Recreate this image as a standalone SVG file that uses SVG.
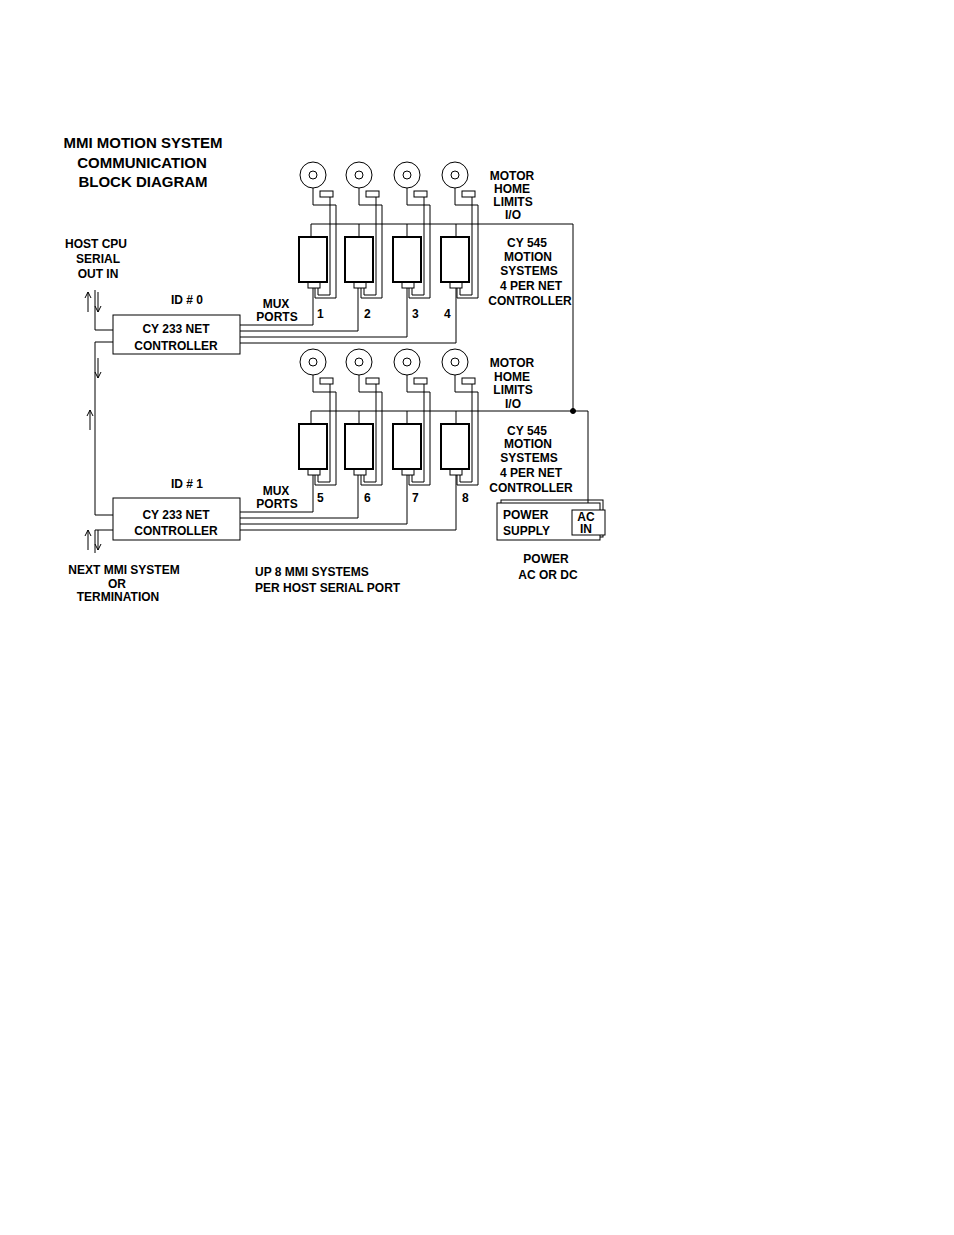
<svg xmlns="http://www.w3.org/2000/svg" width="954" height="1235" viewBox="0 0 954 1235">
<style>
text{font-family:"Liberation Sans",Arial,sans-serif;font-weight:bold;font-size:12px;fill:#000}
.t{font-size:15px}
.m{text-anchor:middle}
line,path,rect,circle{fill:none;stroke:#000;stroke-width:1}
.b{stroke-width:2;fill:#fff}
.bg{fill:#fff;stroke:none}
</style>
<defs>
<g id="motor"><circle r="13" cx="0" cy="0"/><circle r="4" cx="0" cy="0"/></g>
<g id="unit">
<use href="#motor"/>
<rect x="7" y="16" width="13" height="6" stroke-width="1.5"/>
<path d="M0,13 V30 H23 V123 H2 V113"/>
<path d="M17,22 V120 H5 V113"/>
<rect class="b" x="-14" y="62" width="28" height="45"/>
<rect x="-5" y="107" width="12" height="6"/>
</g>
<path id="up" d="M0,0 V20 M-3,6 L0,0 L3,6"/>
<path id="dn" d="M0,0 V20 M-3,14 L0,20 L3,14"/>
</defs>
<rect class="bg" width="954" height="1235"/>
<g id="title">
<text class="t m" x="143" y="148">MMI MOTION SYSTEM</text>
<text class="t m" x="142" y="168">COMMUNICATION</text>
<text class="t m" x="143" y="187">BLOCK DIAGRAM</text>
</g>
<g id="connectors">
<path d="M311,237 V224 H573 V411"/>
<line x1="359" y1="224" x2="359" y2="237"/><line x1="407" y1="224" x2="407" y2="237"/><line x1="456" y1="224" x2="456" y2="237"/>
<path d="M311,424 V411 H588 V503"/>
<line x1="359" y1="411" x2="359" y2="424"/><line x1="407" y1="411" x2="407" y2="424"/><line x1="456" y1="411" x2="456" y2="424"/>
<circle cx="573" cy="411" r="2.5" style="fill:#000"/>
<path d="M313,288 V325 H240 M358,288 V331 H240 M407,288 V337 H240 M456,288 V343 H240"/>
<path d="M313,475 V512 H240 M358,475 V518 H240 M407,475 V524 H240 M456,475 V530 H240"/>
<path d="M95,290 V330 H113"/>
<path d="M113,342 H95 V515 H113"/>
<path d="M113,530 H95 V553"/>
<use href="#up" x="88" y="292"/>
<use href="#dn" x="98" y="292"/>
<use href="#dn" x="98" y="358"/>
<use href="#up" x="90" y="410"/>
<use href="#up" x="88" y="530"/>
<use href="#dn" x="98" y="530"/>
</g>
<g id="units-top">
<use href="#unit" x="313" y="175"/><use href="#unit" x="359" y="175"/><use href="#unit" x="407" y="175"/><use href="#unit" x="455" y="175"/>
</g>
<g id="units-bottom">
<use href="#unit" x="313" y="362"/><use href="#unit" x="359" y="362"/><use href="#unit" x="407" y="362"/><use href="#unit" x="455" y="362"/>
</g>
<g id="controller0"><rect class="b" x="113" y="315" width="127" height="39" style="stroke-width:1"/>
<text class="m" x="176" y="333">CY 233 NET</text><text class="m" x="176" y="350">CONTROLLER</text></g>
<g id="controller1"><rect class="b" x="113" y="498" width="127" height="42" style="stroke-width:1"/>
<text class="m" x="176" y="519">CY 233 NET</text><text class="m" x="176" y="535">CONTROLLER</text></g>
<g id="power"><rect x="501" y="500" width="102" height="37"/><rect class="b" x="497" y="503" width="103" height="37" style="stroke-width:1"/>
<rect class="b" x="572" y="510" width="33" height="25" style="stroke-width:1"/>
<text x="503" y="519">POWER</text><text x="503" y="535">SUPPLY</text>
<text class="m" x="586" y="521">AC</text><text class="m" x="586" y="533">IN</text></g>
<g id="labels">
<text class="m" x="96" y="248">HOST CPU</text><text class="m" x="98" y="263">SERIAL</text><text class="m" x="98" y="278">OUT  IN</text>
<text class="m" x="187" y="304">ID  #  0</text><text class="m" x="187" y="488">ID  #  1</text>
<text class="m" x="276" y="308">MUX</text><text class="m" x="277" y="321">PORTS</text>
<text class="m" x="276" y="495">MUX</text><text class="m" x="277" y="508">PORTS</text>
<text x="317" y="318">1</text><text x="364" y="318">2</text><text x="412" y="318">3</text><text x="444" y="318">4</text>
<text x="317" y="502">5</text><text x="364" y="502">6</text><text x="412" y="502">7</text><text x="462" y="502">8</text>
<text class="m" x="512" y="180">MOTOR</text><text class="m" x="512" y="193">HOME</text><text class="m" x="513" y="206">LIMITS</text><text class="m" x="513" y="219">I/O</text>
<text class="m" x="512" y="367">MOTOR</text><text class="m" x="512" y="381">HOME</text><text class="m" x="513" y="394">LIMITS</text><text class="m" x="513" y="408">I/O</text>
<text class="m" x="527" y="247">CY 545</text><text class="m" x="528" y="261">MOTION</text><text class="m" x="529" y="275">SYSTEMS</text><text class="m" x="531" y="290">4 PER NET</text><text class="m" x="530" y="305">CONTROLLER</text>
<text class="m" x="527" y="435">CY 545</text><text class="m" x="528" y="448">MOTION</text><text class="m" x="529" y="462">SYSTEMS</text><text class="m" x="531" y="477">4 PER NET</text><text class="m" x="531" y="492">CONTROLLER</text>
<text class="m" x="124" y="574">NEXT MMI SYSTEM</text><text class="m" x="117" y="588">OR</text><text class="m" x="118" y="601">TERMINATION</text>
<text x="255" y="576">UP 8 MMI SYSTEMS</text><text x="255" y="592">PER HOST SERIAL PORT</text>
<text class="m" x="546" y="563">POWER</text><text class="m" x="548" y="579">AC OR DC</text>
</g>
</svg>
